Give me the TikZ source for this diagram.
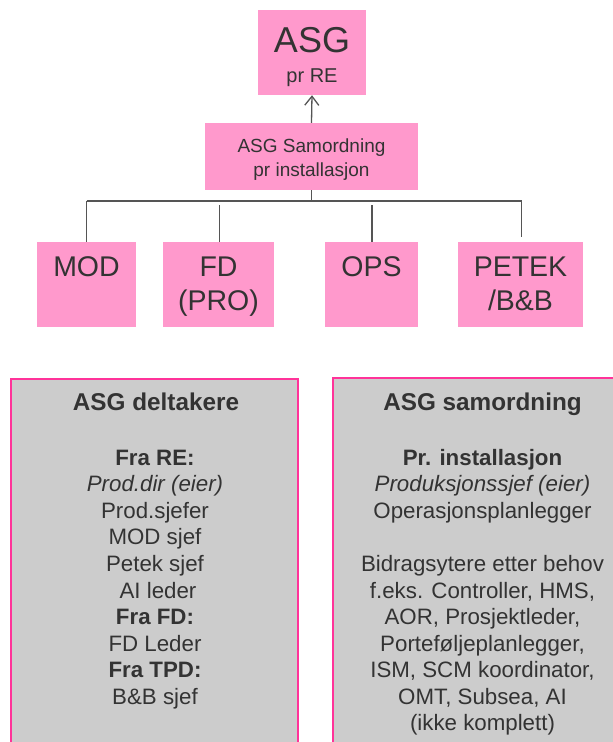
\documentclass[tikz,border=0pt]{standalone}
\usepackage{fontspec}
\setmainfont{Liberation Sans}
\usetikzlibrary{arrows.meta}
\definecolor{boxpink}{HTML}{FF99CC}
\definecolor{edgepink}{HTML}{FF3399}
\definecolor{panelgray}{HTML}{CCCCCC}
\definecolor{txt}{HTML}{333333}
\definecolor{wire}{HTML}{555555}
\tikzset{
  pinkbox/.style={draw=none, fill=boxpink, inner sep=0pt},
  panel/.style={draw=edgepink, line width=2.5pt, fill=panelgray},
  wireline/.style={draw=wire, line width=1.3pt},
  lbl/.style={anchor=base, inner sep=0pt, text=txt},
  big/.style={lbl, font=\fontsize{36}{40}\selectfont},
  mid/.style={lbl, font=\fontsize{28.5}{34}\selectfont},
  sml/.style={lbl, font=\fontsize{19}{24}\selectfont},
  body/.style={lbl, font=\fontsize{22.3}{26.6}\selectfont},
  head/.style={lbl, font=\fontsize{24.3}{28}\selectfont\bfseries},
}
\begin{document}
\begin{tikzpicture}[x=1pt,y=-1pt]
\useasboundingbox (0,0) rectangle (613,742);
\clip (0,0) rectangle (613,742);

% top boxes
\node[pinkbox, minimum width=108pt, minimum height=85pt] (asg) at (312,52.5) {};
\node[big] (asgT) at (312,52) {ASG};
\node[sml, font=\fontsize{20}{24}\selectfont] (asgR) at (312,82) {pr RE};

\node[pinkbox, minimum width=213pt, minimum height=67pt] (sam) at (311.5,156.5) {};
\node[sml] (samA) at (311.5,152) {ASG Samordning};
\node[sml] (samB) at (311.5,176) {pr installasjon};

% unit boxes
\node[pinkbox, minimum width=99pt, minimum height=85pt] (mod) at (86.5,284.5) {};
\node[pinkbox, minimum width=111pt, minimum height=85pt] (fd) at (218.5,284.5) {};
\node[pinkbox, minimum width=93pt, minimum height=85pt] (ops) at (371.5,284.5) {};
\node[pinkbox, minimum width=125pt, minimum height=85pt] (pet) at (520.5,284.5) {};

\node[mid] (modT) at (86.5,276) {MOD};
\node[mid] (fdA) at (218.5,276) {FD};
\node[mid] (fdB) at (218.5,310.7) {(PRO)};
\node[mid] (opsT) at (371.5,276) {OPS};
\node[mid] (petA) at (520.5,276) {PETEK};
\node[mid] (petB) at (520.5,310.7) {/B\&B};

% connectors
\draw[wireline, -{Straight Barb[length=9pt,width=14pt]}] (sam.north) -- (asg.south);
\coordinate (jn) at (311.5,201);
\coordinate (jl) at (86.7,201);
\coordinate (jr) at (521.5,201);
\coordinate (fdtop) at (219.5,205);
\coordinate (opstop) at (372,205);
\coordinate (petend) at (521.5,236.5);
\draw[wireline] (sam.south) -- (jn);
\draw[wireline] (jl) -- (jr);
\draw[wireline] (jl) -- (jl |- mod.north);
\draw[wireline] (fdtop) -- (fdtop |- fd.north);
\draw[wireline] (opstop) -- (opstop |- ops.north);
\draw[wireline] (jr) -- (petend);

% lower panels
\draw[panel] (11.2,379.2) rectangle (297.8,770);
\draw[panel] (333,378.2) rectangle (645,770);

% left panel text
\node[head] (lt) at (156,410) {ASG deltakere};
\node[body, font=\fontsize{22.3}{26.6}\selectfont\bfseries] (l1) at (155,465) {Fra RE:};
\node[body, font=\fontsize{22.3}{26.6}\selectfont\itshape] (l2) at (155,491.6) {Prod.dir (eier)};
\node[body] (l3) at (155,518.2) {Prod.sjefer};
\node[body] (l4) at (155,544.8) {MOD sjef};
\node[body] (l5) at (155,571.4) {Petek sjef};
\node[body] (l6) at (158,598) {AI leder};
\node[body, font=\fontsize{22.3}{26.6}\selectfont\bfseries] (l7) at (155,624.6) {Fra FD:};
\node[body] (l8) at (155,651.2) {FD Leder};
\node[body, font=\fontsize{22.3}{26.6}\selectfont\bfseries] (l9) at (155,677.8) {Fra TPD:};
\node[body] (l10) at (155,704.4) {B\&B sjef};

% right panel text
\node[head] (rt) at (482.5,410) {ASG samordning};
\node[body, font=\fontsize{22.3}{26.6}\selectfont\bfseries] (r1) at (482.5,465) {Pr. installasjon};
\node[body, font=\fontsize{22.3}{26.6}\selectfont\itshape] (r2) at (482.5,491.6) {Produksjonssjef (eier)};
\node[body] (r3) at (482.5,518.2) {Operasjonsplanlegger};
\node[body] (r4) at (482.5,571.4) {Bidragsytere etter behov};
\node[body] (r5) at (482.5,598) {f.eks. Controller, HMS,};
\node[body] (r6) at (482.5,624.6) {AOR, Prosjektleder,};
\node[body] (r7) at (482.5,651.2) {Porteføljeplanlegger,};
\node[body] (r8) at (482.5,677.8) {ISM, SCM koordinator,};
\node[body] (r9) at (482.5,704.4) {OMT, Subsea, AI};
\node[body] (r10) at (482.5,730) {(ikke komplett)};
\end{tikzpicture}
\end{document}
